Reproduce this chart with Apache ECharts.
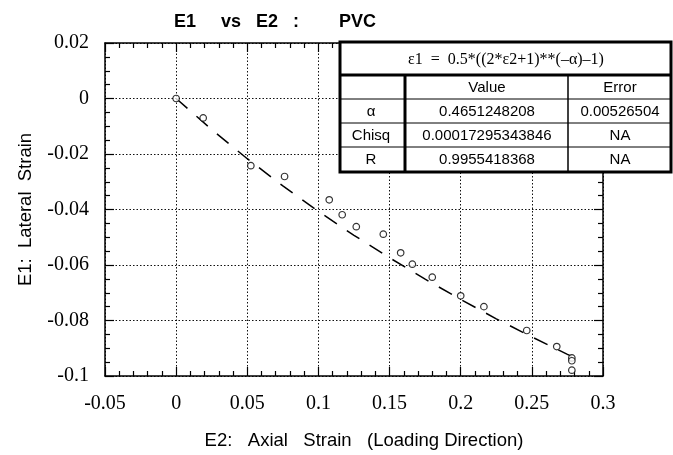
<!DOCTYPE html>
<html>
<head>
<meta charset="utf-8">
<script src="https://cdn.jsdelivr.net/npm/echarts@6/dist/echarts.min.js"></script>
<style>
  html, body { margin: 0; padding: 0; background: #fff; }
  #chart { width: 673px; height: 455px; }
</style>
</head>
<body>
<div id="chart"></div>
<script>
// measured points (E2 axial strain, E1 lateral strain)
var axialStrain = [0, 0.019, 0.0525, 0.0762, 0.1076, 0.1167, 0.1266, 0.1456, 0.1578,
  0.166, 0.18, 0.2, 0.2163, 0.2464, 0.2675, 0.2781, 0.2781, 0.2781];
var lateralStrain = [0, -0.007, -0.0242, -0.0281, -0.0365, -0.0419, -0.0462, -0.0489, -0.0556,
  -0.0597, -0.0644, -0.0711, -0.075, -0.0836, -0.0894, -0.0935, -0.0945, -0.0979];

// fitted curve
var fitX = [0, 0.025, 0.05, 0.075, 0.1, 0.125, 0.15, 0.175, 0.2, 0.225, 0.25, 0.275, 0.28];
var fitY = [0, -0.0112, -0.0217, -0.0315, -0.0407, -0.0493, -0.0574, -0.0651, -0.0724,
  -0.0794, -0.0859, -0.0922, -0.0934];

// fit results box
var fitFormula = 'ε1  =  0.5*((2*ε2+1)**(–α)–1)';
var tableHeader = ['', 'Value', 'Error'];
var rowNames = ['α', 'Chisq', 'R'];
var rowValues = ['0.4651248208', '0.00017295343846', '0.9955418368'];
var rowErrors = ['0.00526504', 'NA', 'NA'];

var chart = echarts.init(document.getElementById('chart'));

var scatterData = axialStrain.map(function (x, i) { return [x, lateralStrain[i]]; });
var fitData = fitX.map(function (x, i) { return [x, fitY[i]]; });

var sans = 'Liberation Sans';
var serif = 'Liberation Serif';

function frameAxis(pos, isX, showLabel) {
  var ax = {
    type: 'value',
    position: pos,
    min: isX ? -0.05 : -0.1,
    max: isX ? 0.3 : 0.02,
    interval: isX ? 0.05 : 0.02,
    axisLine: { show: true, onZero: false, lineStyle: { color: '#000', width: 1.5 } },
    axisTick: { show: true, inside: true, length: 9, lineStyle: { color: '#000', width: 1.2 } },
    minorTick: { show: true, splitNumber: isX ? 5 : 4, length: 5, lineStyle: { color: '#000', width: 1.2 } },
    axisLabel: {
      show: showLabel,
      color: '#000',
      fontFamily: serif,
      fontSize: 20,
      margin: isX ? 18 : 16
    },
    splitLine: {
      show: showLabel,
      lineStyle: { color: '#111', width: 1, type: [1.5, 2] }
    },
    minorSplitLine: { show: false }
  };
  return ax;
}

var xMain = frameAxis('bottom', true, true);
xMain.name = 'E2:   Axial   Strain   (Loading Direction)';
xMain.nameLocation = 'middle';
xMain.nameGap = 55;
xMain.nameTextStyle = { fontFamily: sans, fontSize: 18.5, color: '#000', padding: [0, 0, 0, 20] };

var yMain = frameAxis('left', false, true);
yMain.name = 'E1:  Lateral  Strain';
yMain.nameLocation = 'middle';
yMain.nameGap = 70;
yMain.nameTextStyle = { fontFamily: sans, fontSize: 18.5, color: '#000' };

var graphics = [
  { type: 'rect', z: 100, shape: { x: 340, y: 42, width: 331, height: 130 },
    style: { fill: '#fff', stroke: '#000', lineWidth: 3 } },
  { type: 'line', z: 101, shape: { x1: 340, y1: 75, x2: 671, y2: 75 }, style: { stroke: '#000', lineWidth: 3 } },
  { type: 'line', z: 101, shape: { x1: 405, y1: 75, x2: 405, y2: 172 }, style: { stroke: '#000', lineWidth: 3 } },
  { type: 'line', z: 101, shape: { x1: 568, y1: 75, x2: 568, y2: 172 }, style: { stroke: '#000', lineWidth: 1.5 } },
  { type: 'text', z: 102, x: 506, y: 60,
    style: { text: fitFormula, fontFamily: serif, fontSize: 16, fill: '#000', align: 'center', verticalAlign: 'middle' } }
];

var colCenters = [371, 487, 620];
var rowTops = [75, 99, 123, 147];
var rowH = 24;
rowTops.forEach(function (top, r) {
  if (r > 0) {
    graphics.push({ type: 'line', z: 101, shape: { x1: 340, y1: top, x2: 671, y2: top },
      style: { stroke: '#000', lineWidth: 1 } });
  }
  var cells = r === 0 ? tableHeader : [rowNames[r - 1], rowValues[r - 1], rowErrors[r - 1]];
  cells.forEach(function (txt, c) {
    graphics.push({ type: 'text', z: 102, x: colCenters[c], y: top + rowH / 2 + 1,
      style: { text: txt, fontFamily: sans, fontSize: 15, fill: '#000', align: 'center', verticalAlign: 'middle' } });
  });
});

chart.setOption({
  animation: false,
  backgroundColor: '#fff',
  title: {
    text: 'E1     vs   E2   :        PVC',
    left: 169,
    top: 8,
    textStyle: { fontFamily: sans, fontSize: 18, fontWeight: 'bold', color: '#000' }
  },
  grid: { left: 105, right: 70, top: 43, bottom: 71, containLabel: false },
  xAxis: [xMain, frameAxis('top', true, false)],
  yAxis: [yMain, frameAxis('right', false, false)],
  series: [
    {
      name: 'fit',
      type: 'line',
      data: fitData,
      showSymbol: false,
      symbol: 'none',
      lineStyle: { color: '#000', width: 1.5, type: [15, 12] },
      z: 2
    },
    {
      name: 'data',
      type: 'scatter',
      data: scatterData,
      symbol: 'circle',
      symbolSize: 6.5,
      itemStyle: { color: '#fff', borderColor: '#000', borderWidth: 1.2 },
      z: 3
    }
  ],
  graphic: graphics
});
</script>
</body>
</html>
